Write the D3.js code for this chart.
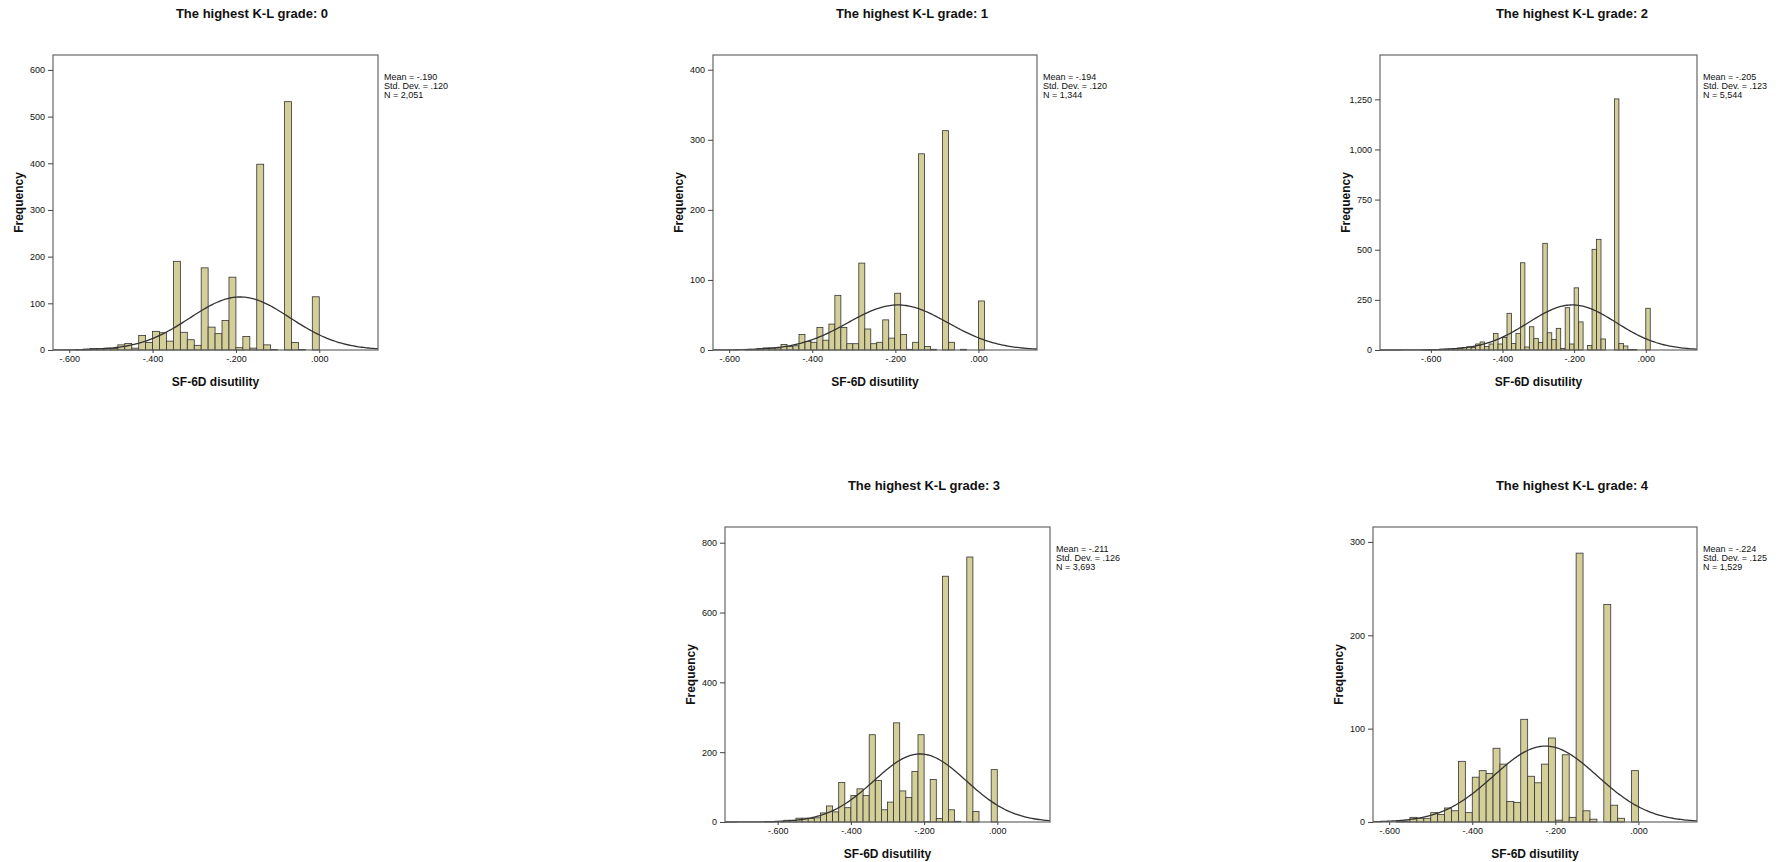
<!DOCTYPE html>
<html>
<head>
<meta charset="utf-8">
<script src="https://cdnjs.cloudflare.com/ajax/libs/d3/7.8.5/d3.min.js"></script>
<style>
  body { margin: 0; background: #fff; }
  text { font-family: "Liberation Sans", Arial, sans-serif; fill: #111; }
</style>
</head>
<body>
<div id="chart"></div>
<script>
// K-L grades shown in each panel
var grades      =   [ 0, 1, 2, 3, 4 ];

// histogram counts, left to right, per grade
var counts0     =   [ 1,2,3,3,4,3,11,14,4,31,16,40,37,19,190,38,22,10,176,49,35,63,156,5,29,4,398,11,1,0,532,16,1,0,114 ];
var counts1     =   [ 1,1,2,3,3,3,8,5,6,22,12,11,32,14,37,78,32,9,9,124,30,9,11,43,17,81,22,1,11,280,5,1,0,313,11,0,1,0,0,70 ];
var counts2     =   [ 1,1,2,2,4,5,6,8,10,12,16,13,30,40,17,30,83,30,63,183,33,83,435,15,116,58,38,532,86,53,108,8,211,30,310,140,0,22,502,552,55,0,0,1252,33,20,3,2,0,0,208 ];
var counts3     =   [ 1,1,2,5,5,11,11,10,12,26,46,29,113,41,76,95,76,250,119,35,57,284,89,70,145,250,1,122,10,704,35,2,0,759,30,0,0,150 ];
var counts4     =   [ 1,1,5,4,4,10,8,15,12,65,10,48,55,52,79,62,22,21,110,49,42,62,90,2,72,5,288,12,3,0,233,18,4,0,55 ];

// left edge of first bin and bin width
var binStarts   =   [ -35/60, -39*0.0144, -50*0.0125, -38/60, -35/60 ];
var binWidths   =   [ 1/60, 0.0144, 0.0125, 1/60, 1/60 ];

// summary stats
var means       =   [ -0.190, -0.194, -0.205, -0.211, -0.224 ];
var sds         =   [ 0.120, 0.120, 0.123, 0.126, 0.125 ];
var ns          =   [ 2051, 1344, 5544, 3693, 1529 ];

// axes
var yTicks      =   [ [0,100,200,300,400,500,600], [0,100,200,300,400], [0,250,500,750,1000,1250], [0,200,400,600,800], [0,100,200,300] ];
var xTicks      =   [ -0.6, -0.4, -0.2, 0 ];

var allCounts   =   [ counts0, counts1, counts2, counts3, counts4 ];

// layout per panel: box and domains
var panels = [
    { x: 53,   y: 55,  w: 325, h: 295, xd: [-0.639, 0.141], ymax: 632,  tx: 252 },
    { x: 713,  y: 55,  w: 324, h: 295, xd: [-0.639, 0.141], ymax: 421,  tx: 912 },
    { x: 1380, y: 55,  w: 317, h: 295, xd: [-0.742, 0.143], ymax: 1471, tx: 1572 },
    { x: 725,  y: 527, w: 325, h: 295, xd: [-0.744, 0.144], ymax: 845,  tx: 924 },
    { x: 1373, y: 527, w: 324, h: 295, xd: [-0.639, 0.141], ymax: 316,  tx: 1572 }
];

var svg = d3.select( '#chart' ).append( 'svg' )
    .attr( 'width', 1780 )
    .attr( 'height', 862 );

var fmtX = function( d ){
    var s = d3.format( '.3f' )( d );
    return s.replace( '\u2212', '-' ).replace( '0.', '.' );
};

panels.forEach( function( p, pi ){
    var bw = binWidths[pi];
    var bins = allCounts[pi]
        .map( function( c, i ){ return { x0: binStarts[pi] + i * bw, n: c }; } )
        .filter( function( d ){ return d.n > 0; } );
    var x = d3.scaleLinear().domain( p.xd ).range( [ p.x, p.x + p.w ] );
    var y = d3.scaleLinear().domain( [ 0, p.ymax ] ).range( [ p.y + p.h, p.y ] );

    // title
    svg.append( 'text' )
        .attr( 'x', p.tx ).attr( 'y', p.y - 37 )
        .attr( 'text-anchor', 'middle' )
        .attr( 'font-size', 13 ).attr( 'font-weight', 'bold' )
        .text( 'The highest K-L grade: ' + grades[pi] );

    var g = svg.append( 'g' );

    // bars
    g.selectAll( 'rect' )
        .data( bins )
        .enter()
        .append( 'rect' )
        .attr( 'x', function( d ){ return x( d.x0 ); } )
        .attr( 'y', function( d ){ return y( d.n ); } )
        .attr( 'width', x( bw ) - x( 0 ) )
        .attr( 'height', function( d ){ return y( 0 ) - y( d.n ); } )
        .attr( 'fill', '#d4cf98' )
        .attr( 'stroke', '#333' )
        .attr( 'stroke-width', 0.8 );

    // normal curve
    var pts = d3.range( 0, 201 ).map( function( k ){
        var v = p.xd[0] + ( p.xd[1] - p.xd[0] ) * k / 200;
        var z = ( v - means[pi] ) / sds[pi];
        return [ v, ns[pi] * bw * Math.exp( -z * z / 2 ) / ( sds[pi] * Math.sqrt( 2 * Math.PI ) ) ];
    });
    g.append( 'path' )
        .datum( pts )
        .attr( 'd', d3.line().x( function( d ){ return x( d[0] ); } ).y( function( d ){ return y( d[1] ); } ) )
        .attr( 'fill', 'none' )
        .attr( 'stroke', '#333' )
        .attr( 'stroke-width', 1.3 );

    // frame
    svg.append( 'rect' )
        .attr( 'x', p.x ).attr( 'y', p.y )
        .attr( 'width', p.w ).attr( 'height', p.h )
        .attr( 'fill', 'none' )
        .attr( 'stroke', '#666' )
        .attr( 'stroke-width', 1.2 );

    // y axis
    var ya = svg.append( 'g' )
        .attr( 'transform', 'translate(' + p.x + ',0)' )
        .call( d3.axisLeft( y ).tickValues( yTicks[pi] ).tickSize( 5 ).tickFormat( d3.format( ',' ) ) );
    ya.select( '.domain' ).remove();
    ya.selectAll( 'text' ).attr( 'font-size', 9 ).style( 'font-family', '"Liberation Sans", Arial, sans-serif' ).attr( 'fill', '#222' );
    ya.selectAll( 'line' ).attr( 'stroke', '#444' );

    // x axis
    var xa = svg.append( 'g' )
        .attr( 'transform', 'translate(0,' + ( p.y + p.h ) + ')' )
        .call( d3.axisBottom( x ).tickValues( xTicks ).tickSize( 3 ).tickFormat( fmtX ) );
    xa.select( '.domain' ).remove();
    xa.selectAll( 'text' ).attr( 'font-size', 9 ).style( 'font-family', '"Liberation Sans", Arial, sans-serif' ).attr( 'fill', '#222' );
    xa.selectAll( 'line' ).attr( 'stroke', '#444' );

    // axis titles
    svg.append( 'text' )
        .attr( 'x', p.x + p.w / 2 ).attr( 'y', p.y + p.h + 36 )
        .attr( 'text-anchor', 'middle' )
        .attr( 'font-size', 12 ).attr( 'font-weight', 'bold' )
        .text( 'SF-6D disutility' );
    svg.append( 'text' )
        .attr( 'transform', 'translate(' + ( p.x - 30 ) + ',' + ( p.y + p.h / 2 ) + ') rotate(-90)' )
        .attr( 'text-anchor', 'middle' )
        .attr( 'font-size', 12 ).attr( 'font-weight', 'bold' )
        .text( 'Frequency' );

    // stats box
    var st = [ 'Mean = ' + fmtX( means[pi] ), 'Std. Dev. = ' + fmtX( sds[pi] ), 'N = ' + d3.format( ',' )( ns[pi] ) ];
    svg.selectAll( null )
        .data( st )
        .enter()
        .append( 'text' )
        .attr( 'x', p.x + p.w + 6 )
        .attr( 'y', function( d, i ){ return p.y + 25 + i * 9; } )
        .attr( 'font-size', 9 )
        .text( function( d ){ return d; } );
});
</script>
</body>
</html>
